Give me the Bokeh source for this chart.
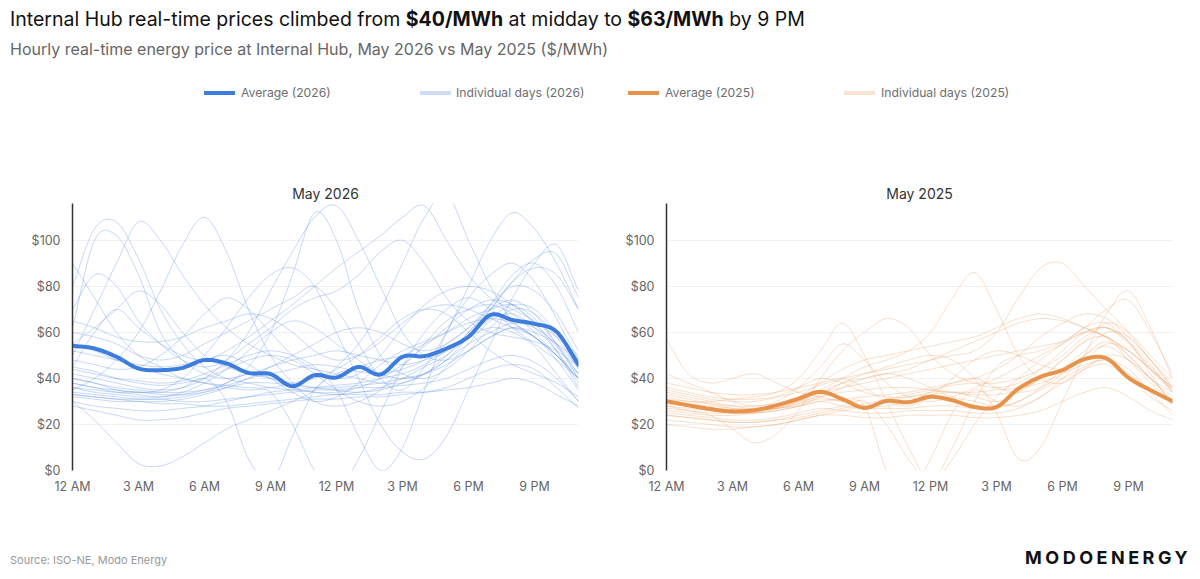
import numpy as np
from bokeh.plotting import figure
from bokeh.models import Div, Range1d, FixedTicker
from bokeh.layouts import column, row
from bokeh.embed import file_html
from bokeh.resources import INLINE

# ---------------- data ----------------
HOURS = list(range(24))
X_TICKS = [0, 3, 6, 9, 12, 15, 18, 21]
X_TICK_LABELS = ["12 AM", "3 AM", "6 AM", "9 AM", "12 PM", "3 PM", "6 PM", "9 PM"]
Y_TICKS = [0, 20, 40, 60, 80, 100]
Y_TICK_LABELS = ["$0", "$20", "$40", "$60", "$80", "$100"]

AVG_2026 = [54.2, 53.0, 49.4, 44.3, 43.6, 44.6, 48.0, 46.5, 42.4, 41.9, 36.6, 41.4,
            40.4, 45.0, 41.7, 49.4, 49.7, 53.0, 58.1, 67.6, 65.4, 63.7, 60.3, 46.0]
AVG_2025 = [30.1, 28.3, 26.7, 25.7, 26.2, 28.3, 31.2, 34.2, 31.0, 27.2, 30.2, 29.7,
            32.0, 30.5, 27.6, 27.6, 35.6, 40.7, 43.6, 48.4, 48.7, 40.3, 34.9, 30.1]

DAYS_2026 = [
    [32, 31, 30, 30, 29, 29, 28, 28, 29, 30, 31, 32, 33, 33, 33, 34, 34, 35, 36, 38, 40, 38, 33, 28],
    [34, 33, 32, 31, 31, 30, 30, 31, 32, 33, 34, 35, 35, 36, 36, 37, 38, 40, 44, 48, 50, 47, 40, 30],
    [36, 35, 34, 34, 33, 33, 34, 36, 38, 38, 37, 36, 36, 37, 38, 40, 42, 46, 52, 58, 62, 58, 48, 35],
    [28, 26, 24, 22, 22, 23, 25, 27, 28, 29, 30, 31, 31, 32, 32, 33, 34, 36, 40, 44, 46, 44, 36, 27],
    [40, 38, 36, 35, 34, 34, 35, 37, 40, 42, 44, 46, 45, 43, 42, 44, 48, 55, 62, 70, 74, 68, 55, 40],
    [55, 62, 70, 78, 72, 60, 50, 45, 42, 40, 38, 36, 35, 34, 36, 40, 45, 50, 58, 66, 72, 70, 60, 48],
    [80, 105, 108, 92, 70, 55, 45, 40, 38, 36, 35, 34, 33, 34, 35, 38, 42, 48, 55, 60, 64, 62, 55, 45],
    [62, 100, 102, 85, 60, 48, 42, 40, 42, 45, 48, 50, 52, 50, 48, 46, 48, 52, 60, 72, 85, 90, 80, 60],
    [45, 60, 70, 62, 55, 50, 48, 52, 58, 65, 72, 80, 88, 95, 102, 110, 115, 100, 85, 75, 70, 65, 58, 50],
    [30, 22, 12, 3, 2, 6, 12, 18, 22, 26, 30, 35, 45, 55, 70, 90, 110, 120, 100, 80, 65, 58, 50, 40],
    [50, 70, 90, 108, 100, 85, 72, 62, 55, 50, 46, 44, 42, 40, 38, 38, 42, 50, 60, 70, 82, 92, 94, 75],
    [35, 40, 48, 60, 78, 98, 110, 95, 70, 50, 38, 30, 28, 30, 35, 45, 55, 65, 70, 72, 68, 60, 50, 40],
    [40, 38, 35, 34, 35, 40, 50, 62, 75, 85, 88, 80, 60, 40, 20, 8, 5, 15, 35, 55, 75, 90, 98, 78],
    [60, 58, 55, 50, 48, 50, 55, 60, 65, 70, 75, 80, 70, 55, 40, 35, 45, 60, 80, 100, 112, 105, 90, 70],
    [42, 40, 38, 36, 35, 36, 40, 48, 60, 78, 95, 110, 115, 100, 80, 60, 50, 48, 52, 58, 62, 60, 55, 48],
    [55, 52, 48, 45, 42, 40, 38, 36, 35, 34, 20, 0, -10, 5, 25, 45, 60, 70, 75, 70, 62, 55, 48, 40],
    [70, 85, 80, 65, 55, 48, 45, 48, 55, 62, 70, 75, 78, 85, 95, 100, 90, 75, 65, 60, 58, 56, 52, 45],
    [33, 32, 31, 30, 30, 31, 33, 36, 40, 45, 50, 55, 60, 62, 60, 55, 52, 55, 62, 72, 80, 78, 68, 52],
    [38, 36, 34, 33, 32, 34, 38, 44, 52, 60, 65, 62, 55, 48, 42, 40, 42, 48, 58, 70, 82, 88, 85, 70],
    [45, 43, 40, 38, 37, 38, 40, 44, 48, 50, 48, 42, 35, 30, 28, 30, 36, 45, 55, 65, 68, 62, 52, 38],
    [48, 46, 44, 45, 50, 58, 68, 75, 70, 60, 50, 44, 40, 42, 50, 62, 72, 78, 80, 78, 72, 64, 54, 42],
    [30, 28, 27, 26, 26, 27, 28, 30, 32, 34, 35, 36, 37, 38, 40, 42, 46, 52, 58, 62, 60, 54, 42, 30],
    [65, 62, 58, 56, 56, 58, 62, 65, 68, 66, 60, 52, 48, 50, 56, 64, 70, 72, 70, 66, 62, 58, 50, 42],
    [52, 50, 48, 46, 45, 46, 48, 50, 46, 40, 34, 30, 32, 38, 46, 52, 56, 60, 64, 66, 64, 58, 50, 40],
    [36, 34, 33, 32, 32, 33, 35, 38, 42, 40, 36, 34, 34, 36, 40, 46, 54, 62, 70, 74, 72, 64, 52, 36],
    [90, 75, 60, 50, 45, 40, 38, 37, 36, 36, 38, 40, 44, 50, 58, 66, 70, 68, 60, 52, 46, 42, 38, 32],
    [38, 36, 35, 34, 34, 36, 40, 30, 5, -5, 15, 35, 42, 45, 48, 50, 55, 60, 66, 70, 72, 66, 55, 42],
    [33, 32, 31, 31, 31, 32, 34, 38, 45, 60, 85, 112, 100, 70, 50, 42, 40, 44, 52, 62, 70, 68, 58, 44],
    [44, 42, 40, 39, 38, 39, 42, 46, 50, 52, 50, 45, 35, 15, 0, 10, 35, 60, 75, 85, 90, 82, 66, 48],
]

DAYS_2025 = [
    [30, 28, 26, 25, 25, 26, 28, 30, 28, 27, 27, 27, 28, 28, 27, 27, 30, 35, 40, 45, 48, 42, 35, 30],
    [25, 24, 23, 22, 22, 23, 25, 27, 26, 25, 25, 26, 26, 26, 25, 25, 27, 32, 38, 44, 46, 40, 32, 26],
    [35, 33, 31, 30, 30, 32, 36, 40, 38, 34, 32, 32, 34, 34, 32, 30, 34, 40, 48, 56, 58, 50, 40, 32],
    [22, 21, 20, 19, 19, 20, 22, 24, 24, 23, 23, 24, 24, 24, 23, 23, 24, 26, 30, 34, 36, 32, 26, 22],
    [42, 38, 34, 30, 28, 30, 36, 45, 55, 48, 38, 32, 30, 32, 36, 40, 45, 50, 55, 60, 58, 48, 38, 30],
    [57, 42, 38, 40, 42, 38, 34, 32, 30, 28, 28, 30, 34, 38, 40, 36, 34, 36, 42, 50, 54, 48, 40, 34],
    [28, 26, 24, 18, 12, 16, 26, 40, 52, 60, 66, 62, 50, 42, 38, 36, 38, 44, 52, 60, 62, 55, 45, 35],
    [32, 30, 30, 31, 32, 34, 40, 52, 64, 50, 30, 10, -5, 5, 20, 32, 40, 48, 55, 62, 64, 56, 44, 35],
    [26, 25, 24, 24, 25, 27, 30, 35, 40, 45, 48, 52, 60, 75, 86, 70, 50, 40, 38, 44, 50, 48, 40, 30],
    [30, 29, 28, 27, 27, 28, 30, 34, 38, 40, 42, 44, 48, 50, 52, 60, 75, 88, 90, 80, 70, 60, 48, 36],
    [24, 23, 22, 21, 21, 22, 24, 26, 28, 30, 20, 5, -5, 10, 30, 45, 50, 52, 56, 62, 70, 74, 60, 42],
    [33, 31, 29, 27, 26, 27, 29, 33, 38, 42, 45, 48, 50, 48, 40, 25, 5, 10, 30, 50, 68, 78, 62, 40],
    [28, 27, 26, 25, 25, 26, 28, 32, 36, 40, 42, 40, 36, 32, 30, 28, 30, 36, 44, 52, 60, 58, 48, 36],
    [38, 36, 34, 33, 33, 34, 36, 38, 40, 36, 30, 28, 32, 40, 48, 52, 50, 46, 44, 48, 55, 52, 44, 36],
    [20, 19, 18, 18, 19, 20, 22, 24, 26, 28, 30, 32, 33, 34, 34, 35, 36, 38, 42, 46, 48, 44, 34, 24],
    [30, 28, 27, 26, 26, 28, 32, 38, 44, 48, 50, 52, 54, 56, 58, 62, 66, 68, 66, 62, 58, 52, 44, 34],
    [27, 26, 25, 25, 26, 27, 29, 31, 30, 28, 0, -10, 5, 25, 35, 30, 28, 32, 40, 50, 56, 50, 40, 30],
    [36, 34, 32, 31, 31, 32, 34, 37, 40, 42, 44, 46, 48, 52, 56, 60, 64, 66, 65, 62, 58, 52, 44, 36],
    [24, 23, 22, 21, 21, 22, 23, 25, 27, 29, 31, 33, 35, 37, 38, 38, 40, 44, 50, 58, 62, 56, 42, 28],
    [31, 30, 29, 28, 28, 29, 31, 34, 36, 38, 40, 42, 44, 46, 48, 50, 52, 54, 56, 60, 62, 56, 46, 34],
    [34, 32, 30, 28, 27, 28, 30, 32, 34, 35, 36, 36, 35, 34, 33, 33, 35, 40, 48, 56, 64, 60, 50, 40],
    [29, 28, 27, 26, 26, 27, 28, 30, 31, 32, 33, 34, 36, 38, 40, 44, 50, 58, 64, 68, 66, 58, 48, 38],
]

FONT = "Inter"
BLUE = "#3d7ddd"
BLUE_LIGHT = "#5b8ee6"
ORANGE = "#e8934c"
ORANGE_LIGHT = "#eea36a"


def smooth(xs, ys, n=10):
    """Catmull-Rom curve through the hourly points (display smoothing)."""
    P = np.column_stack([np.asarray(xs, float), np.asarray(ys, float)])
    P = np.vstack([2 * P[0] - P[1], P, 2 * P[-1] - P[-2]])
    t = np.linspace(0, 1, n, endpoint=False)[:, None]
    out = []
    for i in range(1, len(P) - 2):
        p0, p1, p2, p3 = P[i - 1], P[i], P[i + 1], P[i + 2]
        seg = 0.5 * (2 * p1 + (-p0 + p2) * t + (2 * p0 - 5 * p1 + 4 * p2 - p3) * t ** 2
                     + (-p0 + 3 * p1 - 3 * p2 + p3) * t ** 3)
        out.append(seg)
    out.append(P[-2][None, :])
    arr = np.vstack(out)
    return arr[:, 0].tolist(), arr[:, 1].tolist()


def panel(title, days, avg, col_light, col_avg, border_left, border_right, width):
    p = figure(width=width, height=350, output_backend="svg", toolbar_location=None,
               x_range=Range1d(0, 23), y_range=Range1d(0, 116),
               min_border_left=border_left, min_border_right=border_right,
               min_border_top=53, min_border_bottom=30, title=title)
    p.outline_line_color = None
    p.background_fill_color = "white"
    p.border_fill_color = "white"
    p.title.align = "center"
    p.title.text_font = FONT
    p.title.text_font_size = "14px"
    p.title.text_font_style = "normal"
    p.title.text_color = "#333333"
    p.title.standoff = 4

    xs_list, ys_list = [], []
    for d in days:
        sx, sy = smooth(HOURS, d)
        xs_list.append(sx)
        ys_list.append(sy)
    p.multi_line(xs_list, ys_list, line_color=col_light, line_alpha=0.35, line_width=1)
    ax, ay = smooth(HOURS, avg)
    p.line(ax, ay, line_color=col_avg, line_width=4, line_cap="round", line_join="round")

    p.xgrid.visible = False
    p.ygrid.ticker = FixedTicker(ticks=Y_TICKS)
    p.ygrid.grid_line_color = "#f2f2f2"
    p.ygrid.grid_line_width = 1

    xa = p.xaxis[0]
    xa.ticker = FixedTicker(ticks=X_TICKS)
    xa.major_label_overrides = dict(zip(X_TICKS, X_TICK_LABELS))
    xa.axis_line_color = None
    xa.major_tick_line_color = None
    xa.minor_tick_line_color = None
    xa.major_label_standoff = 2
    xa.major_label_text_font = FONT
    xa.major_label_text_font_size = "12.5px"
    xa.major_label_text_color = "#666666"

    ya = p.yaxis[0]
    ya.ticker = FixedTicker(ticks=Y_TICKS)
    ya.major_label_overrides = dict(zip(Y_TICKS, Y_TICK_LABELS))
    ya.axis_line_color = "#333333"
    ya.axis_line_width = 1.5
    ya.major_tick_line_color = None
    ya.minor_tick_line_color = None
    ya.major_label_standoff = 6
    ya.major_label_text_font = FONT
    ya.major_label_text_font_size = "12.5px"
    ya.major_label_text_color = "#666666"
    return p


p1 = panel("May 2026", DAYS_2026, AVG_2026, BLUE_LIGHT, BLUE, 72, 24, 602)
p2 = panel("May 2025", DAYS_2025, AVG_2025, ORANGE_LIGHT, ORANGE, 64, 20, 590)

F = f"font-family:'{FONT}',sans-serif;"
W = 1192


def abs_text(left, top, size, color, text, extra=""):
    return (f'<div style="position:absolute;left:{left}px;top:{top}px;font-size:{size}px;'
            f'line-height:1;color:{color};white-space:nowrap;{F}{extra}">{text}</div>')


def swatch(left, top, color):
    return (f'<div style="position:absolute;left:{left}px;top:{top}px;width:31px;height:4px;'
            f'background:{color};"></div>')


header_html = (
    f'<div style="position:relative;width:{W}px;height:150px;">'
    + abs_text(10, 10, 19.5, "#111111",
               'Internal Hub real-time prices climbed from <b>$40/MWh</b> at midday to '
               '<b>$63/MWh</b> by 9 PM')
    + abs_text(10, 41, 16, "#666666",
               'Hourly real-time energy price at Internal Hub, May 2026 vs May 2025 ($/MWh)')
    + swatch(204, 91, BLUE) + abs_text(241, 87, 12.2, "#6e6e6e", "Average (2026)")
    + swatch(420, 91, "#cfdcf5") + abs_text(456, 87, 12.2, "#6e6e6e", "Individual days (2026)")
    + swatch(628, 91, ORANGE) + abs_text(665, 87, 12.2, "#6e6e6e", "Average (2025)")
    + swatch(844, 91, "#f6e3d2") + abs_text(881, 87, 12.2, "#6e6e6e", "Individual days (2025)")
    + '</div>'
)
header = Div(text=header_html, width=W, height=150, margin=0)

footer_html = (
    f'<div style="position:relative;width:{W}px;height:75px;">'
    + abs_text(10, 55, 11, "#999999", "Source: ISO-NE, Modo Energy")
    + abs_text(1025, 49, 18, "#111111", "MODOENERGY", "font-weight:700;letter-spacing:3.5px;")
    + '</div>'
)
footer = Div(text=footer_html, width=W, height=75, margin=0)

layout = column(header, row(p1, p2, spacing=0), footer, spacing=0)

open("out.html", "w").write(file_html(layout, INLINE))
